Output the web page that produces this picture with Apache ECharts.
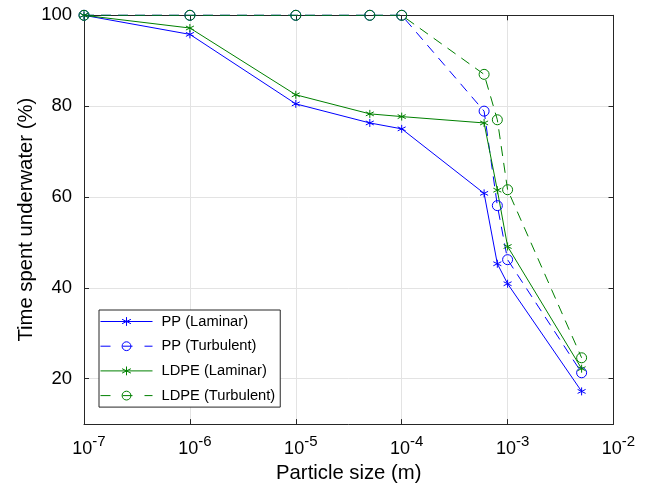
<!DOCTYPE html>
<html>
<head>
<meta charset="utf-8">
<script src="https://cdn.jsdelivr.net/npm/echarts@6/dist/echarts.min.js"></script>
<style>html,body{margin:0;padding:0;background:#fff;}#chart{width:656px;height:488px;}</style>
</head>
<body>
<div id="chart"></div>
<script>
// ---- data ----
const particleSize = [1e-7, 1e-6, 1e-5, 5e-5, 1e-4, 6e-4, 8e-4, 1e-3, 5e-3];
const ppLaminar     = [100, 95.8, 80.5, 76.3, 75.0, 60.8, 45.3, 40.9, 17.2];
const ppTurbulent   = [100, 100, 100, 100, 100, 78.9, 58.1, 46.2, 21.3];
const ldpeLaminar   = [100, 97.2, 82.5, 78.3, 77.7, 76.3, 61.5, 49.1, 22.2];
const ldpeTurbulent = [100, 100, 100, 100, 100, 87.0, 77.0, 61.6, 24.6];
const seriesNames = ['PP (Laminar)', 'PP (Turbulent)', 'LDPE (Laminar)', 'LDPE (Turbulent)'];
const yTicks = [20, 40, 60, 80, 100];
const xTickExponents = [-7, -6, -5, -4, -3, -2];

const BLUE = '#0000ff';
const GREEN = '#008000';
const AXIS = '#262626';
const ASTERISK = 'path://M0,-1L0,1M-0.866,-0.5L0.866,0.5M-0.866,0.5L0.866,-0.5';

function pairs(ys) { return particleSize.map((x, i) => [x, ys[i]]); }

function mkSeries(name, ys, color, dashed, marker) {
  const isStar = marker === 'star';
  return {
    name: name,
    type: 'line',
    data: pairs(ys),
    clip: false,
    symbol: isStar ? ASTERISK : 'circle',
    symbolSize: isStar ? 8 : 10,
    showAllSymbol: true,
    lineStyle: { color: color, width: 1, type: dashed ? [10, 7] : 'solid' },
    itemStyle: { color: 'rgba(0,0,0,0)', borderColor: color, borderWidth: 1 },
    emphasis: { disabled: true },
    animation: false
  };
}

function legendItem(name, color, dashed) {
  return {
    name: name,
    lineStyle: { width: 1, color: color, type: dashed ? [10, 12] : 'solid' },
    itemStyle: { color: 'rgba(0,0,0,0)', borderColor: color, borderWidth: 1 }
  };
}

const chart = echarts.init(document.getElementById('chart'), null, { renderer: 'canvas' });

const xRange = { min: Math.pow(10, xTickExponents[0]), max: Math.pow(10, xTickExponents[xTickExponents.length - 1]) };
const FONT = 'Liberation Sans, Arial, sans-serif';

chart.setOption({
  backgroundColor: '#fff',
  animation: false,
  textStyle: { fontFamily: FONT },
  grid: { left: 84, right: 42.5, top: 15.3, bottom: 63, containLabel: false },
  legend: {
    left: 99, top: 310, orient: 'vertical',
    padding: [4, 5, 4, 1],
    itemWidth: 52, itemHeight: 11, itemGap: 9.7,
    borderColor: AXIS, borderWidth: 1, backgroundColor: '#fff',
    textStyle: { fontSize: 14.7, color: '#000', padding: [0, 0, 0, 4] },
    data: [
      legendItem(seriesNames[0], BLUE, false),
      legendItem(seriesNames[1], BLUE, true),
      legendItem(seriesNames[2], GREEN, false),
      legendItem(seriesNames[3], GREEN, true)
    ],
    selectedMode: false
  },
  xAxis: [
    {
      type: 'log', logBase: 10, min: xRange.min, max: xRange.max, position: 'bottom',
      name: 'Particle size (m)', nameLocation: 'middle', nameGap: 35,
      nameTextStyle: { fontSize: 20.3, color: '#000' },
      axisLine: { show: true, lineStyle: { color: AXIS, width: 1 } },
      axisTick: { show: true, inside: true, length: 5, lineStyle: { color: AXIS } },
      minorTick: { show: false },
      splitLine: { show: true, lineStyle: { color: '#e3e3e3', width: 1 } },
      axisLabel: {
        margin: 8, color: '#000',
        formatter: function (v) {
          const e = Math.round(Math.log10(v));
          return '{b|10}{s|' + e + '}';
        },
        rich: {
          b: { fontSize: 18, color: '#000', padding: [8, 0, 0, 10], fontFamily: FONT },
          s: { fontSize: 15, color: '#000', padding: [0, 0, 6, 0], fontFamily: FONT }
        }
      }
    },
    {
      type: 'log', logBase: 10, min: xRange.min, max: xRange.max, position: 'top',
      axisLine: { show: true, lineStyle: { color: AXIS, width: 1 } },
      axisTick: { show: true, inside: true, length: 5, lineStyle: { color: AXIS } },
      axisLabel: { show: false }, splitLine: { show: false }
    }
  ],
  yAxis: [
    {
      type: 'value', min: 10, max: 100, position: 'left',
      name: 'Time spent underwater (%)', nameLocation: 'middle', nameGap: 48,
      nameMoveOverlap: false,
      nameTextStyle: { fontSize: 20.3, color: '#000' },
      axisLine: { show: true, lineStyle: { color: AXIS, width: 1 } },
      axisTick: { show: true, inside: true, length: 5, lineStyle: { color: AXIS }, customValues: yTicks },
      axisLabel: { fontSize: 18.5, color: '#000', margin: 12, customValues: yTicks },
      splitLine: { show: true, lineStyle: { color: '#e3e3e3', width: 1 } }
    },
    {
      type: 'value', min: 10, max: 100, position: 'right',
      axisLine: { show: true, lineStyle: { color: AXIS, width: 1 } },
      axisTick: { show: true, inside: true, length: 5, lineStyle: { color: AXIS }, customValues: yTicks },
      axisLabel: { show: false, customValues: yTicks }, splitLine: { show: false }
    }
  ],
  series: [
    mkSeries(seriesNames[0], ppLaminar, BLUE, false, 'star'),
    mkSeries(seriesNames[1], ppTurbulent, BLUE, true, 'circle'),
    mkSeries(seriesNames[2], ldpeLaminar, GREEN, false, 'star'),
    mkSeries(seriesNames[3], ldpeTurbulent, GREEN, true, 'circle')
  ]
});
</script>
</body>
</html>
